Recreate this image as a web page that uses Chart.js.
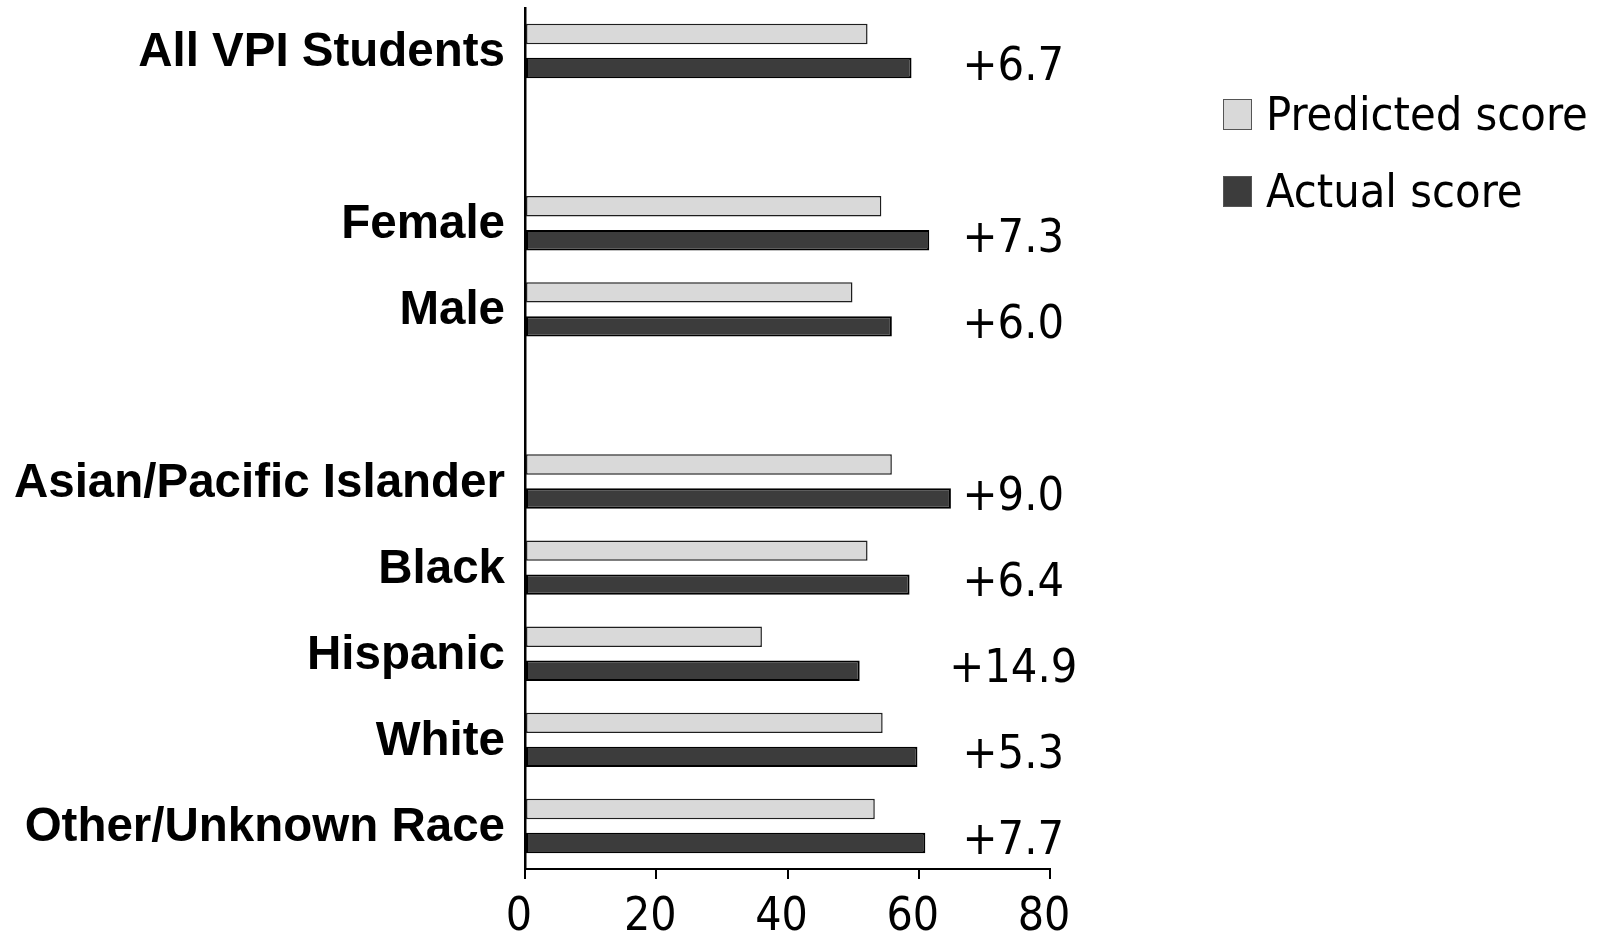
<!DOCTYPE html>
<html>
<head>
<meta charset="utf-8">
<script src="https://cdn.jsdelivr.net/npm/chart.js@4/dist/chart.umd.min.js"></script>
<style>
  html, body { margin: 0; padding: 0; background: #ffffff; }
  #wrap { width: 1602px; height: 935px; position: relative; }
</style>
</head>
<body>
<div id="wrap"><canvas id="c" width="1602" height="935"></canvas></div>
<script>
// Group rows, top to bottom; empty strings are spacer rows between groups
const categories = ['All VPI Students', '', 'Female', 'Male', '', 'Asian/Pacific Islander', 'Black', 'Hispanic', 'White', 'Other/Unknown Race'];
const predictedScore = [52.2, null, 54.3, 49.9, null, 55.9, 52.2, 36.1, 54.5, 53.3];
const actualScore    = [58.9, null, 61.6, 55.9, null, 64.9, 58.6, 51.0, 59.8, 61.0];
const seriesNames = ['Predicted score', 'Actual score'];
const xTicks = [0, 20, 40, 60, 80];

const SANS = "'DejaVu Sans Condensed', 'DejaVu Sans', sans-serif";
const BOLD = "'Liberation Sans', Arial, sans-serif";

// Category names, difference labels and the legend are painted after the bars
const annotate = {
  id: 'annotate',
  afterDraw(chart) {
    const { ctx } = chart;
    const xs = chart.scales.x;
    const ys = chart.scales.y;
    ctx.save();
    ctx.fillStyle = '#000';

    // category names, right-aligned just left of the axis
    ctx.font = `bold 47.5px ${BOLD}`;
    ctx.textAlign = 'right';
    ctx.textBaseline = 'alphabetic';
    categories.forEach((name, i) => {
      if (!name) return;
      ctx.fillText(name, xs.left - 20, ys.getPixelForValue(i) + 15);
    });

    // gain of actual over predicted, beside each actual bar
    ctx.font = `46.5px ${SANS}`;
    ctx.textAlign = 'center';
    const actualMeta = chart.getDatasetMeta(1);
    categories.forEach((name, i) => {
      const a = actualScore[i], p = predictedScore[i];
      if (a == null || p == null) return;
      const diff = a - p;
      const txt = (diff >= 0 ? '+' : '') + diff.toFixed(1);
      const bar = actualMeta.data[i];
      ctx.fillText(txt, xs.getPixelForValue(74.4), bar.y + 11.5);
    });

    // legend
    ctx.textAlign = 'left';
    chart.data.datasets.forEach((ds, k) => {
      const base = 130 + k * 77;
      ctx.fillStyle = ds.backgroundColor;
      ctx.fillRect(1223, base - 31, 29, 31);
      ctx.lineWidth = 1;
      ctx.strokeStyle = '#555';
      ctx.strokeRect(1223.5, base - 30.5, 28, 30);
      ctx.fillStyle = '#000';
      ctx.fillText(ds.label, 1266, base);
    });
    ctx.restore();
  }
};

new Chart(document.getElementById('c'), {
  type: 'bar',
  data: {
    labels: categories,
    datasets: [
      {
        label: seriesNames[0],
        data: predictedScore,
        backgroundColor: '#d9d9d9',
        borderColor: '#1e1e1e',
        borderWidth: 1.5,
        borderSkipped: false,
        categoryPercentage: 0.79,
        barPercentage: 0.6
      },
      {
        label: seriesNames[1],
        data: actualScore,
        backgroundColor: '#3c3c3c',
        borderColor: '#000000',
        borderWidth: 2,
        borderSkipped: false,
        categoryPercentage: 0.79,
        barPercentage: 0.6
      }
    ]
  },
  options: {
    indexAxis: 'y',
    responsive: false,
    animation: false,
    devicePixelRatio: 1,
    layout: { padding: { left: 525, right: 552, top: 8, bottom: 0 } },
    plugins: {
      legend: { display: false },
      tooltip: { enabled: false }
    },
    scales: {
      x: {
        type: 'linear',
        min: xTicks[0],
        max: xTicks[xTicks.length - 1],
        afterBuildTicks(scale) { scale.ticks = xTicks.map(v => ({ value: v })); },
        afterFit(scale) { scale.height = 66; },
        ticks: {
          color: '#000',
          font: { family: SANS, size: 46 },
          padding: 11,
          labelOffset: -6,
          maxRotation: 0
        },
        grid: {
          display: true,
          drawOnChartArea: false,
          drawTicks: true,
          tickLength: 10,
          color: '#000',
          lineWidth: 2
        },
        border: { display: true, color: '#000', width: 2 }
      },
      y: {
        type: 'category',
        afterFit(scale) { scale.width = 0; },
        ticks: { display: false },
        grid: { display: true, drawOnChartArea: false, drawTicks: false },
        border: { display: true, color: '#000', width: 2.5 }
      }
    }
  },
  plugins: [annotate]
});
</script>
</body>
</html>
